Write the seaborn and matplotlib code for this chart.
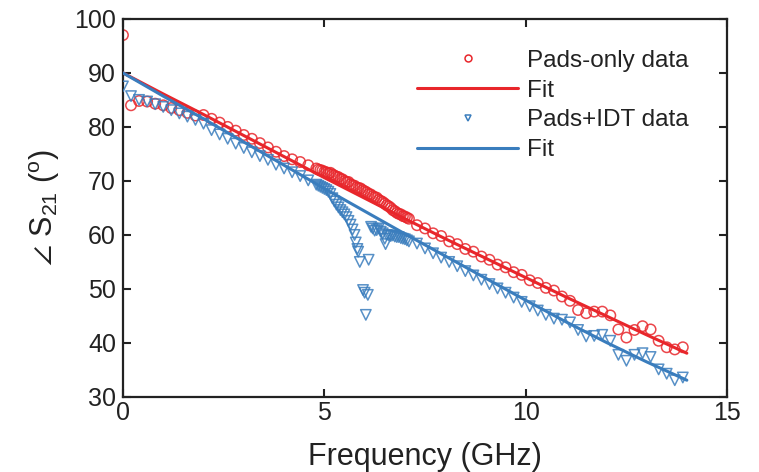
import matplotlib
matplotlib.use("Agg")
import matplotlib.pyplot as plt
import seaborn as sns
import pandas as pd
from matplotlib.lines import Line2D

# ---------------- data ----------------
pads_freq = [0.0, 0.2, 0.4, 0.6, 0.8, 1.0, 1.2, 1.4, 1.6, 1.8, 2.0, 2.2, 2.4, 2.6, 2.8,
             3.0, 3.2, 3.4, 3.6, 3.8, 4.0, 4.2, 4.4, 4.6, 4.8,
             4.85, 4.90, 4.95, 5.00, 5.05, 5.10, 5.15, 5.20, 5.25, 5.30, 5.35, 5.40, 5.45,
             5.50, 5.55, 5.60, 5.65, 5.70, 5.75, 5.80, 5.85, 5.90, 5.95, 6.00, 6.05, 6.10,
             6.15, 6.20, 6.25, 6.30, 6.35, 6.40, 6.45, 6.50, 6.55, 6.60, 6.65, 6.70, 6.75,
             6.80, 6.85, 6.90, 6.95, 7.00, 7.05, 7.10,
             7.3, 7.5, 7.7, 7.9, 8.1, 8.3, 8.5, 8.7, 8.9, 9.1, 9.3, 9.5, 9.7, 9.9, 10.1,
             10.3, 10.5, 10.7,
             10.9, 11.1, 11.3, 11.5, 11.7, 11.9, 12.1, 12.3, 12.5, 12.7, 12.9, 13.1, 13.3,
             13.5, 13.7, 13.9]
pads_phase = [97.0, 84.0, 84.8, 84.7, 84.3, 84.0, 83.5, 83.1, 82.6, 82.1, 82.2, 81.5, 80.8,
              80.0, 79.3, 78.5, 77.8, 77.0, 76.2, 75.4, 74.6, 74.0, 73.5, 72.9, 72.3,
              72.1, 72.0, 71.9, 71.7, 71.6, 71.4, 71.5, 71.2, 71.0, 70.8, 70.7, 70.4, 70.3,
              70.0, 69.8, 69.8, 69.4, 69.2, 69.1, 68.8, 68.7, 68.6, 68.3, 68.1, 67.9, 67.6,
              67.5, 67.2, 67.0, 66.9, 66.5, 66.3, 66.1, 65.8, 65.5, 65.3, 65.0, 64.6, 64.4,
              64.1, 63.9, 63.8, 63.5, 63.4, 63.2, 63.0,
              61.8, 61.2, 60.3, 59.8, 58.8, 58.3, 57.4, 56.9, 56.0, 55.4, 54.5, 54.0, 53.1,
              52.6, 51.6, 51.1, 50.2, 49.7,
              48.6, 47.8, 46.1, 45.5, 45.8, 45.8, 45.1, 42.5, 41.0, 42.4, 43.1, 42.5, 40.4,
              39.2, 38.8, 39.2]

idt_freq = [0.0, 0.2, 0.4, 0.6, 0.8, 1.0, 1.2, 1.4, 1.6, 1.8, 2.0, 2.2, 2.4, 2.6, 2.8,
            3.0, 3.2, 3.4, 3.6, 3.8, 4.0, 4.2, 4.4, 4.6, 4.8,
            4.85, 4.90, 4.95, 5.00, 5.05, 5.10, 5.15, 5.20, 5.25, 5.30, 5.35, 5.40, 5.45,
            5.50, 5.55, 5.60, 5.65, 5.70, 5.75, 5.78, 5.82, 5.84, 5.88, 5.96, 6.00, 6.03,
            6.08, 6.10, 6.16, 6.20, 6.25, 6.30, 6.35, 6.40, 6.45, 6.50, 6.52, 6.55, 6.60,
            6.65, 6.70, 6.75, 6.80, 6.85, 6.90, 6.95, 7.00, 7.05, 7.10,
            7.3, 7.5, 7.7, 7.9, 8.1, 8.3, 8.5, 8.7, 8.9, 9.1, 9.3, 9.5, 9.7, 9.9, 10.1,
            10.3, 10.5, 10.7,
            10.9, 11.1, 11.3, 11.5, 11.7, 11.9, 12.1, 12.3, 12.5, 12.7, 12.9, 13.1, 13.3,
            13.5, 13.7, 13.9]
idt_phase = [87.5, 85.7, 85.0, 84.7, 84.2, 83.7, 83.1, 82.5, 81.9, 81.3, 80.6, 79.4, 78.6,
             77.8, 76.9, 76.1, 75.3, 74.6, 73.9, 73.0, 72.3, 71.6, 70.9, 70.1, 69.3,
             69.1, 68.9, 68.7, 68.5, 68.3, 68.0, 67.6, 66.8, 66.2, 65.6, 65.1, 64.6, 64.2,
             63.8, 63.3, 62.6, 61.9, 61.0, 60.0, 58.6, 57.4, 56.9, 55.0, 49.8, 49.3, 45.2,
             48.9, 55.4, 61.5, 61.2, 60.8, 60.9, 61.2, 60.6, 60.3, 59.3, 58.3, 60.0, 59.9,
             59.8, 59.9, 59.7, 59.6, 59.6, 59.4, 59.3, 59.2, 59.0, 58.8,
             58.4, 57.5, 56.6, 55.8, 55.0, 54.2, 53.3, 52.5, 51.7, 50.9, 50.1, 49.3, 48.4,
             47.6, 46.8, 46.0, 45.2, 44.5,
             44.3, 43.8, 42.4, 41.2, 41.3, 41.5, 40.4, 37.8, 36.7, 37.8, 38.1, 37.4, 35.1,
             34.3, 33.1, 33.6]

fit_freq = [0, 1, 2, 3, 4, 5, 6, 7, 8, 9, 10, 11, 12, 13, 14]
pads_fit = [90.0, 86.1, 82.3, 78.4, 74.5, 70.6, 66.8, 63.0, 59.3, 55.7, 52.1, 48.5, 45.0, 41.5, 38.1]
idt_fit = [90.0, 85.7, 81.5, 77.2, 72.9, 68.6, 64.4, 60.2, 56.1, 52.0, 47.9, 43.9, 40.1, 36.5, 33.1]

labels = ["Pads-only data", "Fit", "Pads+IDT data", "Fit"]
x_ticks = [0, 5, 10, 15]
y_ticks = [30, 40, 50, 60, 70, 80, 90, 100]

RED = "#e8262b"
BLUE = "#3a7dbd"
DARK = "#222222"

# ---------------- style ----------------
sns.set_style("ticks")
plt.rcParams["font.family"] = ["Liberation Sans", "DejaVu Sans"]
plt.rcParams["mathtext.fontset"] = "custom"
plt.rcParams["mathtext.rm"] = "Liberation Sans"
plt.rcParams["mathtext.it"] = "Liberation Sans:italic"
plt.rcParams["mathtext.bf"] = "Liberation Sans:bold"
plt.rcParams["mathtext.fallback"] = "stixsans"
plt.rcParams["mathtext.default"] = "regular"

fig = plt.figure(figsize=(7.59, 4.72), dpi=100)
ax = fig.add_axes([0.162, 0.159, 0.796, 0.801])

pads_df = pd.DataFrame({"f": pads_freq, "v": pads_phase})
idt_df = pd.DataFrame({"f": idt_freq, "v": idt_phase})
fit_df = pd.DataFrame({"f": fit_freq, "pads": pads_fit, "idt": idt_fit})

sns.scatterplot(data=pads_df, x="f", y="v", marker="o", s=56, facecolor="none",
                edgecolor=RED, linewidth=1.1, alpha=0.85, ax=ax, zorder=2)
sns.lineplot(data=fit_df, x="f", y="pads", color=RED, linewidth=2.2, estimator=None,
             ax=ax, zorder=3)
sns.scatterplot(data=idt_df, x="f", y="v", marker="v", s=56, facecolor="none",
                edgecolor=BLUE, linewidth=1.1, alpha=0.85, ax=ax, zorder=4)
sns.lineplot(data=fit_df, x="f", y="idt", color=BLUE, linewidth=2.2, estimator=None,
             ax=ax, zorder=5)

ax.set_xlim(0, 15)
ax.set_ylim(30, 100)
ax.set_xticks(x_ticks)
ax.set_yticks(y_ticks)
ax.tick_params(direction="in", length=6, width=1.5, top=True, right=True,
               labelsize=18, colors=DARK)
ax.tick_params(axis="x", pad=3)
ax.tick_params(axis="y", pad=5)
for sp in ax.spines.values():
    sp.set_linewidth(1.6)
    sp.set_color(DARK)
    sp.set_visible(True)

ax.set_xlabel("Frequency (GHz)", fontsize=22, color=DARK, labelpad=12)
ax.set_ylabel(r"$\angle$ S$_{21}$ ($^{o}$)", fontsize=22, color=DARK, labelpad=9)

handles = [
    Line2D([], [], marker="o", linestyle="none", markerfacecolor="none",
           markeredgecolor=RED, markersize=5, markeredgewidth=1.1),
    Line2D([], [], color=RED, linewidth=2.2),
    Line2D([], [], marker="v", linestyle="none", markerfacecolor="none",
           markeredgecolor=BLUE, markersize=5, markeredgewidth=1.1),
    Line2D([], [], color=BLUE, linewidth=2.2),
]
ax.legend(handles, labels, loc="upper left", bbox_to_anchor=(0.487, 0.918),
          frameon=False, fontsize=17.5, handlelength=4.15, handletextpad=0.37,
          labelspacing=0.32, borderpad=0, borderaxespad=0, labelcolor=DARK)

fig.savefig("out.png", dpi=100)
